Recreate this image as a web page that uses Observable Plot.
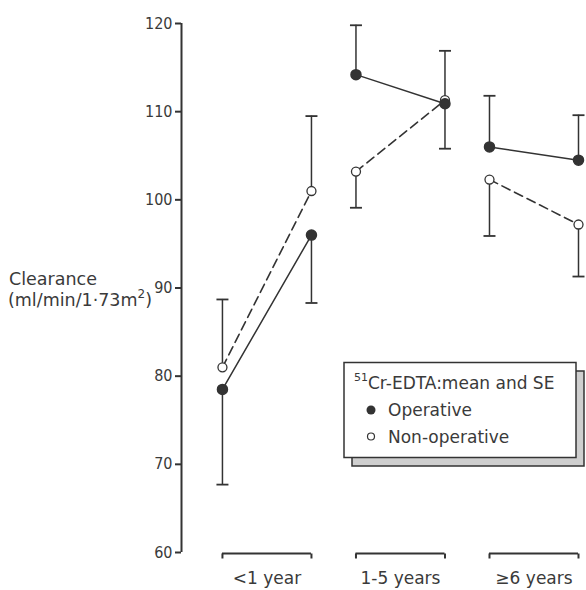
<!DOCTYPE html>
<html><head><meta charset="utf-8">
<script src="https://cdn.jsdelivr.net/npm/d3@7"></script>
<script src="https://cdn.jsdelivr.net/npm/@observablehq/plot@0.6"></script>
<style>
body{margin:0;background:#fff;}
#chart{position:relative;width:586px;height:590px;}
</style></head><body><div id="chart"></div>
<script>
// ---- data ----
const groups = ["<1 year", "1-5 years", "\u22656 years"];
const timepoints = [0, 1]; // two measurements within each age group
const operativeMean      = [78.5, 96.0, 114.2, 110.9, 106.0, 104.5];
const operativeBarEnd    = [67.7, 88.3, 119.8, 105.8, 111.8, 109.6];
const nonOperativeMean   = [81.0, 101.0, 103.2, 111.3, 102.3, 97.2];
const nonOperativeBarEnd = [88.7, 109.5, 99.1, 116.9, 95.9, 91.3];
const yTicks = [60, 70, 80, 90, 100, 110, 120];
const legendTitle = "Cr-EDTA:mean and SE";
const legendSup = "51";
const seriesNames = ["Operative", "Non-operative"];

// ---- layout helpers ----
const groupStep = 1.5;
const axisAt = -0.46;
const ink = "#333";
const textInk = "#3a3a3a";
const font = "DejaVu Sans, sans-serif";

const rows = [];
operativeMean.forEach((m, i) => {
  const g = Math.floor(i / 2), t = timepoints[i % 2];
  rows.push({series: "op", group: g, x: g * groupStep + t, mean: m, end: operativeBarEnd[i]});
});
nonOperativeMean.forEach((m, i) => {
  const g = Math.floor(i / 2), t = timepoints[i % 2];
  rows.push({series: "non", group: g, x: g * groupStep + t, mean: m, end: nonOperativeBarEnd[i]});
});
const op = rows.filter(d => d.series === "op");
const non = rows.filter(d => d.series === "non");
const groupRows = groups.map((name, g) => ({name, x1: g * groupStep, x2: g * groupStep + 1}));
const bracketEnds = groupRows.flatMap(d => [{x: d.x1}, {x: d.x2}]);

const hCap = {draw(ctx, size) { const w = Math.sqrt(size / Math.PI); ctx.moveTo(-w, 0); ctx.lineTo(w, 0); }};
const vDown = {draw(ctx, size) { const w = Math.sqrt(size / Math.PI); ctx.moveTo(0, 0); ctx.lineTo(0, w); }};

const chart = Plot.plot({
  width: 586, height: 590,
  marginLeft: 181, marginRight: 8, marginTop: 23, marginBottom: 38,
  style: {fontFamily: font, background: "#fff"},
  x: {domain: [axisAt, 4], axis: null},
  y: {domain: [60, 120], axis: null},
  marks: [
    Plot.ruleX([axisAt], {y1: 60, y2: 120, stroke: ink, strokeWidth: 2}),
    Plot.axisY(yTicks, {anchor: "left", tickSize: 6, tickPadding: 3, stroke: ink, strokeWidth: 2,
      fontSize: 16, fontFamily: "DejaVu Sans Condensed, DejaVu Sans, sans-serif", fill: textInk, label: null}),
    // error bars
    Plot.ruleX(rows, {x: "x", y1: "mean", y2: "end", stroke: ink, strokeWidth: 1.5}),
    Plot.dot(rows, {x: "x", y: "end", symbol: hCap, r: 6, stroke: ink, strokeWidth: 1.8, fill: "none"}),
    // connecting lines
    Plot.line(op, {x: "x", y: "mean", z: "group", stroke: ink, strokeWidth: 1.5}),
    Plot.line(non, {x: "x", y: "mean", z: "group", stroke: ink, strokeWidth: 1.6, strokeDasharray: "9,5"}),
    // points
    Plot.dot(non, {x: "x", y: "mean", r: 4.5, fill: "#fff", stroke: ink, strokeWidth: 1.3}),
    Plot.dot(op, {x: "x", y: "mean", r: 5, fill: ink, stroke: ink}),
    // group brackets
    Plot.ruleY(groupRows, {y: 60, x1: "x1", x2: "x2", dy: 1, stroke: ink, strokeWidth: 2}),
    Plot.dot(bracketEnds, {x: "x", y: 60, dy: 1, symbol: vDown, r: 5, stroke: ink, strokeWidth: 2}),
    Plot.text(groupRows, {x: d => (d.x1 + d.x2) / 2, y: 60, dy: 26, text: "name", fontSize: 17,
      fill: textInk, fontFamily: font})
  ]
});
document.getElementById("chart").appendChild(chart);

// y-axis label and in-plot legend
const svg = d3.select(chart);
const y90 = chart.scale("y").apply(90);
const lab = svg.append("g").attr("font-family", font).attr("font-size", 17.5).attr("fill", textInk)
  .attr("text-anchor", "start");
lab.append("text").attr("x", 9).attr("y", y90 - 9).attr("dominant-baseline", "central").text("Clearance");
const t2 = lab.append("text").attr("x", 8).attr("y", y90 + 12).attr("dominant-baseline", "central");
t2.append("tspan").text("(ml/min/1\u00b773m");
t2.append("tspan").attr("font-size", 12).attr("dy", -6).text("2");
t2.append("tspan").attr("dy", 6).text(")");

const lg = svg.append("g").attr("font-family", font).attr("fill", textInk).attr("text-anchor", "start");
lg.append("rect").attr("x", 352).attr("y", 371).attr("width", 232).attr("height", 95)
  .attr("fill", "#cfcfcf").attr("stroke", ink).attr("stroke-width", 1.5);
lg.append("rect").attr("x", 344).attr("y", 362.5).attr("width", 232).attr("height", 95)
  .attr("fill", "#fff").attr("stroke", ink).attr("stroke-width", 1.5);
const tt = lg.append("text").attr("x", 354).attr("y", 383).attr("dominant-baseline", "central").attr("font-size", 17);
tt.append("tspan").attr("font-size", 11).attr("dy", -6).text(legendSup);
tt.append("tspan").attr("dy", 6).text(legendTitle);
lg.append("circle").attr("cx", 371).attr("cy", 410).attr("r", 4.5).attr("fill", ink);
lg.append("text").attr("x", 388).attr("y", 410).attr("dominant-baseline", "central").attr("font-size", 17).text(seriesNames[0]);
lg.append("circle").attr("cx", 371).attr("cy", 436.5).attr("r", 3.5).attr("fill", "#fff").attr("stroke", ink).attr("stroke-width", 1.2);
lg.append("text").attr("x", 388).attr("y", 436.5).attr("dominant-baseline", "central").attr("font-size", 17).text(seriesNames[1]);
</script></body></html>
